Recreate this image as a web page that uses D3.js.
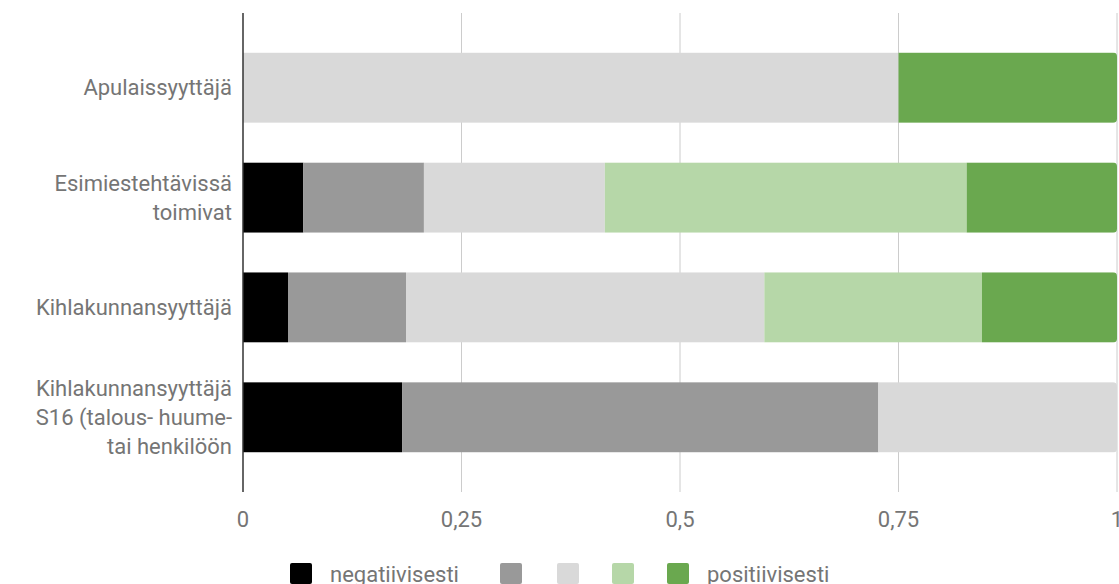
<!DOCTYPE html>
<html>
<head>
<meta charset="utf-8">
<script src="https://cdn.jsdelivr.net/npm/d3@7"></script>
<style>
  body { margin: 0; background: #fff; }
  text { font-family: Roboto, "Noto Sans", sans-serif; fill: #757575; }
</style>
</head>
<body>
<div id="chart"></div>
<script>
// categories (label lines as shown on the y axis)
var categories = ["Apulaissyyttäjä", "Esimiestehtävissä toimivat", "Kihlakunnansyyttäjä", "Kihlakunnansyyttäjä S16"];
var labelLines = [
  ["Apulaissyyttäjä"],
  ["Esimiestehtävissä", "toimivat"],
  ["Kihlakunnansyyttäjä"],
  ["Kihlakunnansyyttäjä", "S16 (talous- huume-", "tai henkilöön"]
];

// series (share of answers, 1 = negative ... 5 = positive)
var seriesNames = ["negatiivisesti", "", "", "", "positiivisesti"];
var s1 = [0, 0.069, 0.0515, 0.182];
var s2 = [0, 0.138, 0.135, 0.545];
var s3 = [0.75, 0.207, 0.41, 0.273];
var s4 = [0, 0.414, 0.249, 0];
var s5 = [0.25, 0.172, 0.1545, 0];
var colors = ["#000000", "#999999", "#d9d9d9", "#b6d7a8", "#6aa84f"];

var xTicks = [0, 0.25, 0.5, 0.75, 1];
var tickLabels = ["0", "0,25", "0,5", "0,75", "1"];

var W = 1119, H = 584;
var plot = {left: 243, right: 1117, top: 13, bottom: 492};

var svg = d3.select("#chart").append("svg")
    .attr("width", W)
    .attr("height", H);

var keys = ["s1", "s2", "s3", "s4", "s5"];
var rows = categories.map(function (c, i) {
  return { cat: c, s1: s1[i], s2: s2[i], s3: s3[i], s4: s4[i], s5: s5[i] };
});
var stacked = d3.stack().keys(keys)(rows);

var x = d3.scaleLinear().domain([0, 1]).range([plot.left, plot.right]);
var y = d3.scaleBand().domain(categories).range([plot.top, plot.bottom]).padding(0.36);

// gridlines
svg.append("g")
  .selectAll("line")
  .data(xTicks.slice(1))
  .enter()
  .append("line")
    .attr("x1", d => x(d)).attr("x2", d => x(d))
    .attr("y1", plot.top).attr("y2", plot.bottom)
    .style("stroke", "#cccccc")
    .style("stroke-width", 1);

// clip each bar to a rounded rectangle
var defs = svg.append("defs");
categories.forEach(function (c, i) {
  defs.append("clipPath").attr("id", "clip" + i)
    .append("rect")
      .attr("x", x(0) - 6)
      .attr("y", y(c))
      .attr("width", x(1) - x(0) + 6)
      .attr("height", y.bandwidth())
      .attr("rx", 4).attr("ry", 4);
});

var layer = svg.append("g")
  .selectAll("g")
  .data(stacked)
  .enter()
  .append("g")
    .style("fill", (d, i) => colors[i]);

layer.selectAll("rect")
  .data(d => d)
  .enter()
  .append("rect")
    .attr("x", d => x(d[0]))
    .attr("y", d => y(d.data.cat))
    .attr("width", d => Math.max(0, x(d[1]) - x(d[0])))
    .attr("height", y.bandwidth())
    .attr("clip-path", (d, i) => "url(#clip" + i + ")");

// zero axis line
svg.append("line")
  .attr("x1", x(0)).attr("x2", x(0))
  .attr("y1", plot.top).attr("y2", plot.bottom)
  .style("stroke", "#333333")
  .style("stroke-width", 1.5);

// x tick labels
svg.append("g")
  .selectAll("text")
  .data(xTicks)
  .enter()
  .append("text")
    .attr("x", d => x(d))
    .attr("y", 519)
    .attr("dy", "0.35em")
    .style("text-anchor", "middle")
    .style("font-size", "22px")
    .text((d, i) => tickLabels[i]);

// y labels
var lineH = 29;
categories.forEach(function (c, i) {
  var lines = labelLines[i];
  var cy = y(c) + y.bandwidth() / 2;
  var t = svg.append("text")
    .attr("x", 232)
    .attr("y", cy - (lines.length - 1) * lineH / 2)
    .style("text-anchor", "end")
    .style("font-size", "22px");
  lines.forEach(function (l, j) {
    t.append("tspan")
      .attr("x", 232)
      .attr("dy", j == 0 ? "0.35em" : lineH)
      .text(l);
  });
});

// legend
var legendX = [290, 500, 557, 612, 667];
var legend = svg.append("g");
seriesNames.forEach(function (name, i) {
  legend.append("rect")
    .attr("x", legendX[i])
    .attr("y", 563)
    .attr("width", 22).attr("height", 21)
    .attr("rx", 2)
    .style("fill", colors[i]);
  if (name) {
    legend.append("text")
      .attr("x", legendX[i] + 40)
      .attr("y", 574)
      .attr("dy", "0.35em")
      .style("font-size", "22px")
      .text(name);
  }
});
</script>
</body>
</html>
